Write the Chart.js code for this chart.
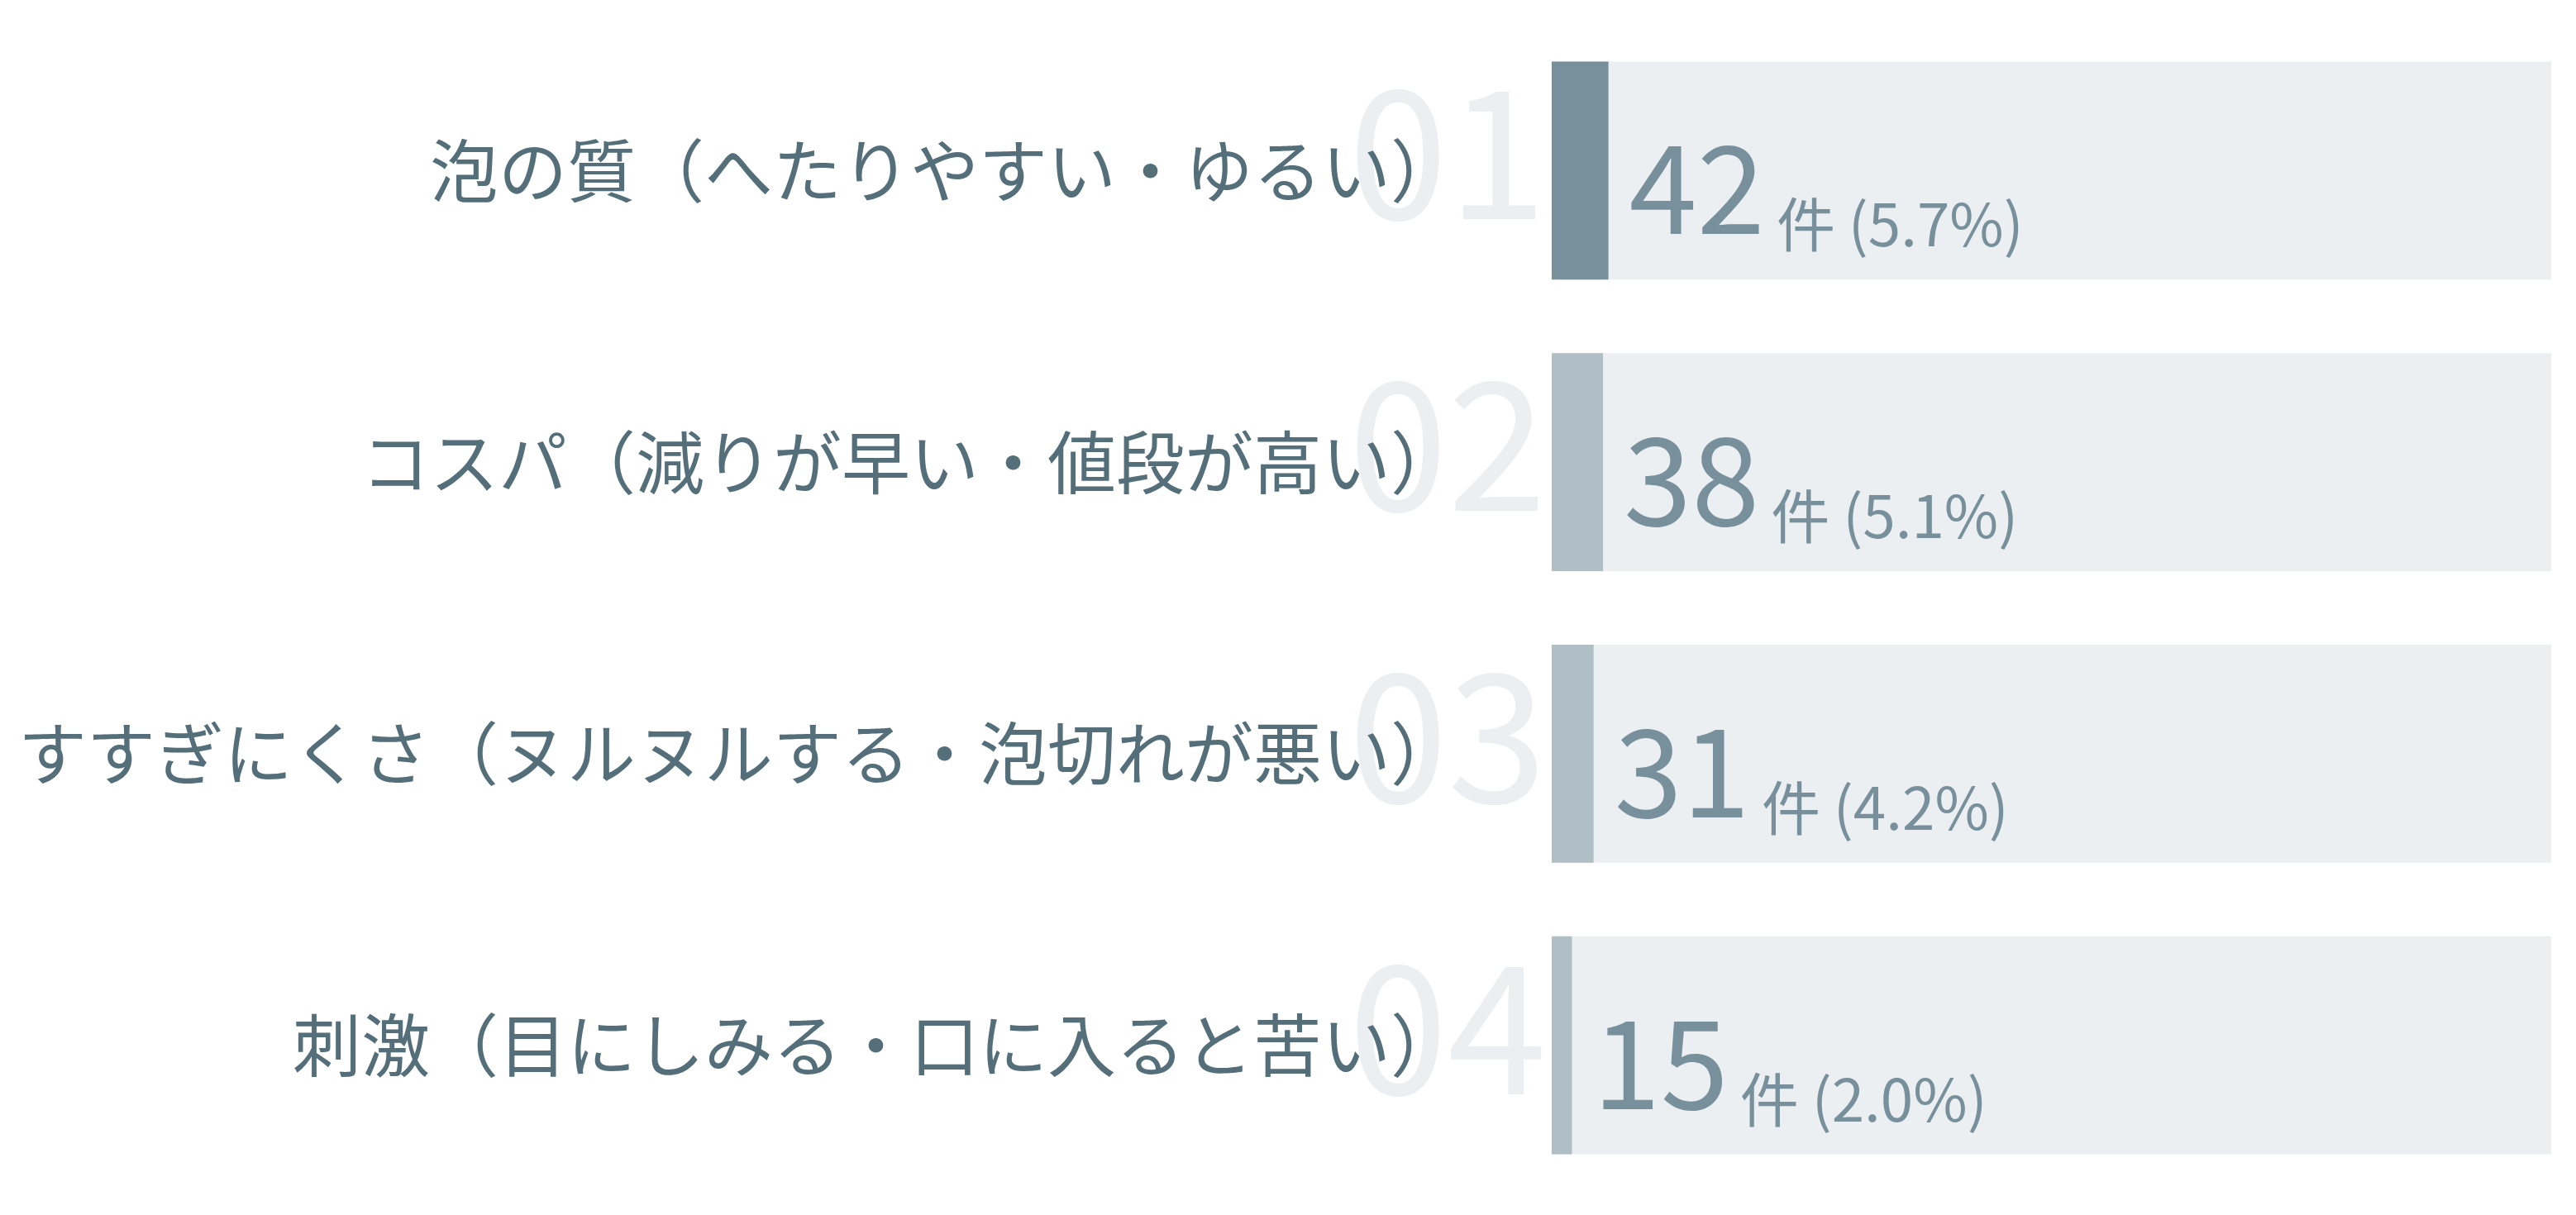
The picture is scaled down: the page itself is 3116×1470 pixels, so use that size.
<!DOCTYPE html>
<html>
<head>
<meta charset="utf-8">
<script src="https://cdn.jsdelivr.net/npm/chart.js@4.4.1/dist/chart.umd.min.js"></script>
<style>
html,body{margin:0;padding:0;background:#ffffff;overflow:hidden}
#wrap{width:3116px;height:1470px;position:relative}
</style>
</head>
<body>
<div id="wrap"><canvas id="c"></canvas></div>
<script>
const categories = [
  '泡の質（へたりやすい・ゆるい）',
  'コスパ（減りが早い・値段が高い）',
  'すすぎにくさ（ヌルヌルする・泡切れが悪い）',
  '刺激（目にしみる・口に入ると苦い）'
];
const counts = [42, 38, 31, 15];
const percentLabels = ['5.7%', '5.1%', '4.2%', '2.0%'];
const rankLabels = ['01', '02', '03', '04'];
const totalResponses = 740;
const unitLabel = '件';

const FONT = "'Noto Sans CJK JP', 'Noto Sans', sans-serif";
const COL_LABEL = '#546e7a';
const COL_VALUE = '#78909c';
const COL_TRACK = '#eceff1';
const COL_RANK = '#eceff1';
const barColors = counts.map((v, i) => i === 0 ? '#78909c' : '#b0bec5');

const rankPlugin = {
  id: 'rankNumerals',
  beforeDraw(chart) {
    const ctx = chart.ctx;
    const y = chart.scales.y;
    ctx.save();
    ctx.fillStyle = COL_RANK;
    ctx.font = `400 216px ${FONT}`;
    ctx.textAlign = 'right';
    ctx.textBaseline = 'alphabetic';
    rankLabels.forEach((r, i) => {
      const cy = y.getPixelForValue(i);
      ctx.fillText(r, chart.chartArea.left - 6, cy + 59);
    });
    ctx.restore();
  }
};

const valuePlugin = {
  id: 'valueLabels',
  afterDatasetsDraw(chart) {
    const ctx = chart.ctx;
    const meta = chart.getDatasetMeta(0);
    ctx.save();
    ctx.fillStyle = COL_VALUE;
    ctx.textAlign = 'left';
    ctx.textBaseline = 'alphabetic';
    meta.data.forEach((bar, i) => {
      const x0 = bar.x + 25;
      ctx.font = `400 148px ${FONT}`;
      const num = String(counts[i]);
      ctx.fillText(num, x0, bar.y + 77);
      const w = ctx.measureText(num).width;
      ctx.font = `400 71px ${FONT}`;
      ctx.fillText(unitLabel + ' (' + percentLabels[i] + ')', x0 + w + 14, bar.y + 92);
    });
    ctx.restore();
  }
};

function build() {
  new Chart(document.getElementById('c'), {
    type: 'bar',
    data: {
      labels: categories,
      datasets: [
        {
          data: counts,
          backgroundColor: barColors,
          borderWidth: 0,
          grouped: false,
          barPercentage: 0.748,
          categoryPercentage: 1
        },
        {
          data: categories.map(() => totalResponses),
          backgroundColor: COL_TRACK,
          borderWidth: 0,
          grouped: false,
          barPercentage: 0.748,
          categoryPercentage: 1
        }
      ]
    },
    options: {
      indexAxis: 'y',
      responsive: true,
      maintainAspectRatio: false,
      devicePixelRatio: 1,
      animation: false,
      layout: { padding: { left: 0, right: 30, top: 30, bottom: 29 } },
      plugins: { legend: { display: false }, tooltip: { enabled: false } },
      scales: {
        x: { display: false, min: 0, max: totalResponses },
        y: {
          position: 'left',
          grid: { display: false, drawTicks: false },
          border: { display: false },
          ticks: {
            autoSkip: false,
            color: COL_LABEL,
            font: { family: FONT, size: 83, weight: '400' },
            padding: 112
          },
          afterFit(s) {
            s.width = 1877;
            s.paddingTop = 0;
            s.paddingBottom = 0;
          }
        }
      }
    },
    plugins: [rankPlugin, valuePlugin]
  });
}

if (document.fonts && document.fonts.load) {
  Promise.all([
    document.fonts.load(`400 83px ${FONT}`, '泡の質'),
    document.fonts.load(`400 148px ${FONT}`, '0123456789')
  ]).then(build, build);
} else {
  build();
}
</script>
</body>
</html>
